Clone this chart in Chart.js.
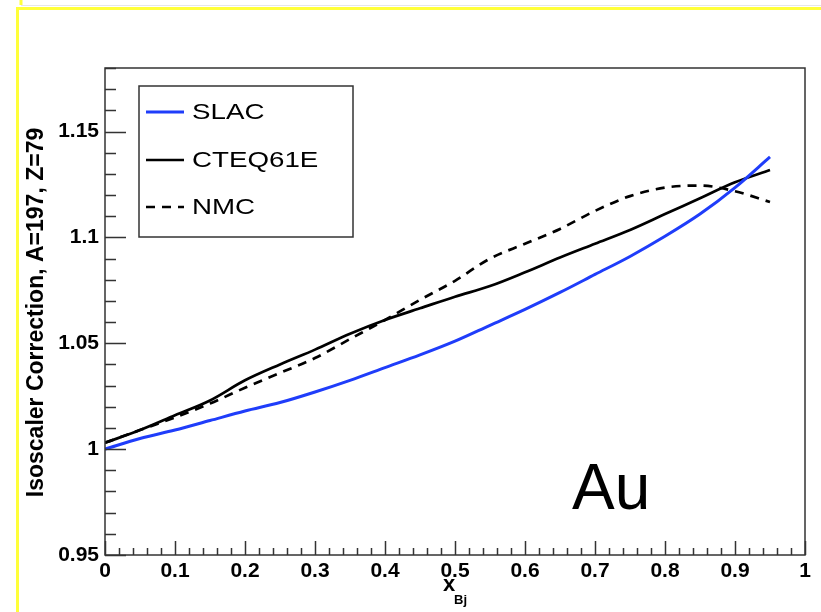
<!DOCTYPE html>
<html>
<head>
<meta charset="utf-8">
<title>Isoscaler Correction</title>
<script src="https://cdn.jsdelivr.net/npm/chart.js@4.4.1/dist/chart.umd.min.js"></script>
<style>
  html, body { margin: 0; padding: 0; background: #fff; }
  canvas { display: block; }
</style>
</head>
<body>
<canvas id="chart" width="821" height="612"></canvas>
<script>
// x_Bj grid and the three corrections for Au (A=197, Z=79)
const xBj = [0, 0.05, 0.1, 0.15, 0.2, 0.25, 0.3, 0.35, 0.4, 0.45, 0.5, 0.55, 0.6, 0.65, 0.7, 0.75, 0.8, 0.85, 0.9, 0.95];
const slac = [1.000, 1.005, 1.009, 1.0135, 1.018, 1.022, 1.027, 1.0325, 1.0385, 1.0445, 1.051, 1.0585, 1.066, 1.074, 1.0825, 1.091, 1.1005, 1.111, 1.1235, 1.138];
const cteq = [1.003, 1.009, 1.016, 1.023, 1.0325, 1.040, 1.047, 1.0545, 1.061, 1.0665, 1.072, 1.077, 1.0835, 1.0905, 1.097, 1.1035, 1.111, 1.1185, 1.126, 1.1318];
const nmc = [1.003, 1.009, 1.015, 1.0215, 1.029, 1.036, 1.043, 1.052, 1.061, 1.0705, 1.0795, 1.090, 1.097, 1.104, 1.1125, 1.1195, 1.1235, 1.1245, 1.1218, 1.1167];

const seriesNames = ['SLAC', 'CTEQ61E', 'NMC'];
const yMajorTicks = [0.95, 1, 1.05, 1.1, 1.15];
const xMajorTicks = [0, 0.1, 0.2, 0.3, 0.4, 0.5, 0.6, 0.7, 0.8, 0.9, 1];

const FONT = "'Liberation Sans', Arial, Helvetica, sans-serif";
const BLUE = '#1f3dfa';
const FRAME = '#333333';

function toPoints(ys) {
  return ys.map((y, i) => ({ x: xBj[i], y: y }));
}

// page background with the yellow slide frame
const backdrop = {
  id: 'backdrop',
  beforeDraw(chart) {
    const ctx = chart.ctx;
    ctx.save();
    ctx.fillStyle = '#fff';
    ctx.fillRect(0, 0, chart.width, chart.height);
    ctx.strokeStyle = '#e6e6e6';
    ctx.lineWidth = 1;
    ctx.beginPath();
    ctx.moveTo(21, 5.5);
    ctx.lineTo(chart.width, 5.5);
    ctx.stroke();
    ctx.strokeStyle = '#ffff3a';
    ctx.lineWidth = 3;
    ctx.beginPath();
    ctx.moveTo(21, 0);
    ctx.lineTo(21, 5);
    ctx.moveTo(17.5, chart.height);
    ctx.lineTo(17.5, 8.5);
    ctx.lineTo(chart.width, 8.5);
    ctx.stroke();
    ctx.restore();
  }
};

// frame, inward ticks, legend and labels
const decorations = {
  id: 'decorations',
  afterDraw(chart) {
    const ctx = chart.ctx;
    const area = chart.chartArea;
    const xs = chart.scales.x;
    const ys = chart.scales.y;
    ctx.save();

    ctx.strokeStyle = FRAME;
    ctx.lineWidth = 1.5;
    ctx.strokeRect(area.left, area.top, area.right - area.left, area.bottom - area.top);

    // y ticks: major every 0.05, minor every 0.01
    ctx.beginPath();
    for (let k = 95; k <= 118; k++) {
      const py = Math.round(ys.getPixelForValue(k / 100)) + 0.5;
      const len = (k % 5 === 0) ? 21 : 11;
      ctx.moveTo(area.left, py);
      ctx.lineTo(area.left + len, py);
    }
    // x ticks: major every 0.1, minor every 0.02
    for (let k = 0; k <= 50; k++) {
      const px = Math.round(xs.getPixelForValue(k / 50)) + 0.5;
      const len = (k % 5 === 0) ? 14 : 7;
      ctx.moveTo(px, area.bottom);
      ctx.lineTo(px, area.bottom - len);
    }
    ctx.stroke();

    // legend
    const lx = 139, ly = 86, lw = 214, lh = 151;
    ctx.fillStyle = '#fff';
    ctx.fillRect(lx, ly, lw, lh);
    ctx.strokeStyle = FRAME;
    ctx.lineWidth = 1.5;
    ctx.strokeRect(lx, ly, lw, lh);
    const rows = [112, 160, 207];
    chart.data.datasets.forEach((ds, i) => {
      ctx.strokeStyle = ds.borderColor;
      ctx.lineWidth = ds.borderWidth;
      ctx.setLineDash(ds.borderDash || []);
      ctx.beginPath();
      ctx.moveTo(146, rows[i]);
      ctx.lineTo(184, rows[i]);
      ctx.stroke();
      ctx.setLineDash([]);
      ctx.save();
      ctx.translate(192, rows[i]);
      ctx.scale(1.26, 1);
      ctx.fillStyle = '#000';
      ctx.font = '22px ' + FONT;
      ctx.textBaseline = 'middle';
      ctx.textAlign = 'left';
      ctx.fillText(ds.label, 0, 1);
      ctx.restore();
    });

    // y axis title
    ctx.save();
    ctx.translate(37, (area.top + area.bottom) / 2 + 1);
    ctx.rotate(-Math.PI / 2);
    ctx.fillStyle = '#000';
    ctx.font = 'bold 23px ' + FONT;
    ctx.textAlign = 'center';
    ctx.textBaseline = 'middle';
    ctx.fillText('Isoscaler Correction, A=197, Z=79', 0, 0);
    ctx.restore();

    // x axis title: x with subscript Bj
    ctx.fillStyle = '#000';
    ctx.textAlign = 'left';
    ctx.textBaseline = 'alphabetic';
    ctx.font = 'bold 22px ' + FONT;
    ctx.fillText('x', 443, 591);
    ctx.font = 'bold 13px ' + FONT;
    ctx.fillText('Bj', 454, 604);

    // nucleus label
    ctx.font = '64px ' + FONT;
    ctx.fillText('Au', 572, 509);

    ctx.restore();
  }
};

const ctx = document.getElementById('chart').getContext('2d');
new Chart(ctx, {
  type: 'line',
  data: {
    datasets: [
      {
        label: seriesNames[0],
        data: toPoints(slac),
        borderColor: BLUE,
        borderWidth: 3,
        pointRadius: 0,
        cubicInterpolationMode: 'monotone'
      },
      {
        label: seriesNames[1],
        data: toPoints(cteq),
        borderColor: '#000',
        borderWidth: 2.7,
        pointRadius: 0,
        cubicInterpolationMode: 'monotone'
      },
      {
        label: seriesNames[2],
        data: toPoints(nmc),
        borderColor: '#000',
        borderWidth: 2.7,
        borderDash: [9, 7],
        pointRadius: 0,
        cubicInterpolationMode: 'monotone'
      }
    ]
  },
  options: {
    responsive: false,
    animation: false,
    layout: { padding: { top: 68, right: 16, left: 0, bottom: 0 } },
    plugins: {
      legend: { display: false },
      tooltip: { enabled: false }
    },
    scales: {
      x: {
        type: 'linear',
        min: 0,
        max: 1,
        afterFit(scale) { scale.height = 57; },
        grid: { display: false, drawTicks: false },
        border: { display: false },
        ticks: {
          stepSize: 0.1,
          padding: 4,
          color: '#000',
          maxRotation: 0,
          autoSkip: false,
          font: { family: FONT, size: 21, weight: 'bold' },
          callback: (v) => {
            const hit = xMajorTicks.find(t => Math.abs(t - v) < 1e-6);
            return hit === undefined ? '' : String(hit);
          }
        }
      },
      y: {
        min: 0.95,
        max: 1.18,
        afterFit(scale) { scale.width = 105; },
        grid: { display: false, drawTicks: false },
        border: { display: false },
        ticks: {
          stepSize: 0.05,
          includeBounds: false,
          padding: 6,
          color: '#000',
          autoSkip: false,
          font: { family: FONT, size: 21, weight: 'bold' },
          callback: (v) => {
            const hit = yMajorTicks.find(t => Math.abs(t - v) < 1e-6);
            return hit === undefined ? '' : String(hit);
          }
        }
      }
    }
  },
  plugins: [backdrop, decorations]
});
</script>
</body>
</html>
